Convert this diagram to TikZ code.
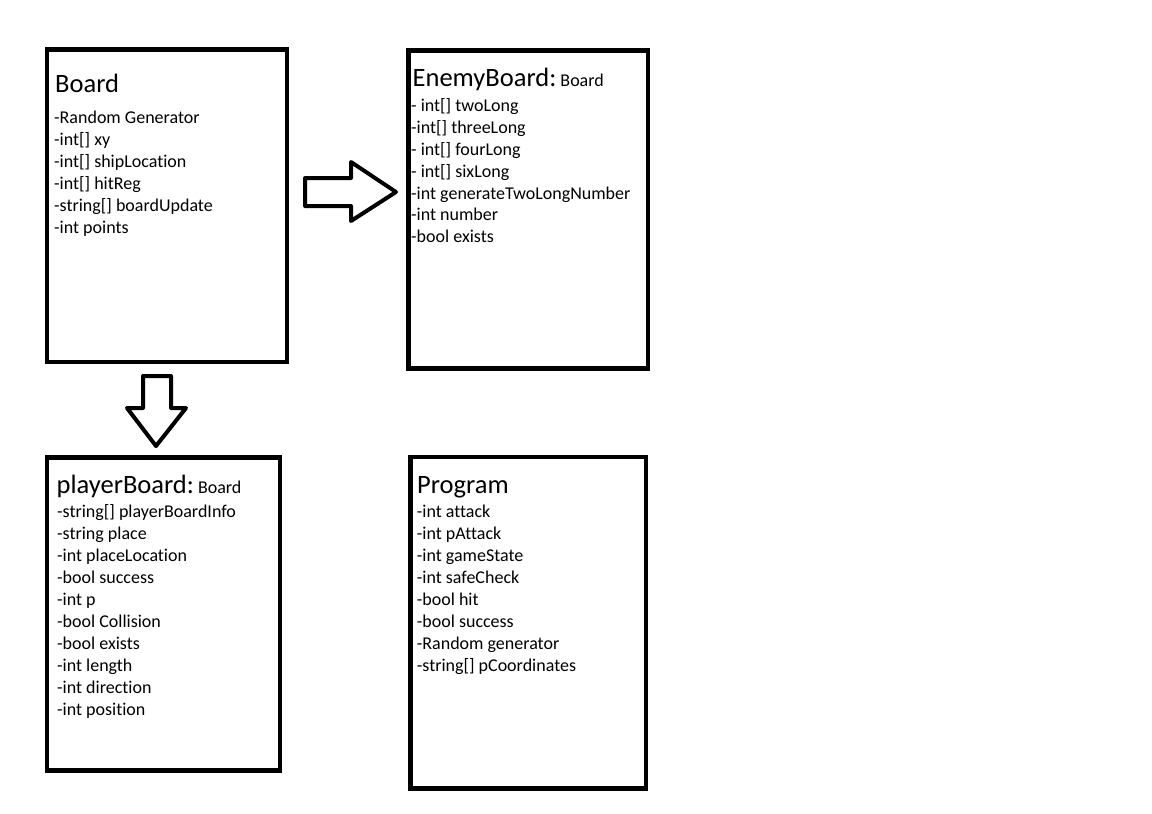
\documentclass[tikz,border=0pt]{standalone}
\usepackage{fontspec}
\setmainfont{Carlito}[Ligatures=CommonOff]
\usetikzlibrary{calc}

\begin{document}
\begin{tikzpicture} [
    x=1pt, y=-1pt,
    classbox/.style = {draw, line width=4.5pt, inner sep=0pt},
    title/.style = {anchor=base west, inner sep=0pt, font=\fontsize{26.5}{30}\selectfont},
    attr/.style = {anchor=base west, inner sep=0pt, font=\fontsize{18}{22}\selectfont},
    blockarrow/.style = {draw, line width=4pt, line join=round}
]
    \useasboundingbox (0,0) rectangle (1152,814);

    \node[classbox, minimum width=240pt, minimum height=312.5pt] (board) at (167,205.75) {};
    \node[classbox, minimum width=239.5pt, minimum height=317.8pt] (enemy) at (528.25,209.4) {};
    \node[classbox, minimum width=233pt, minimum height=313pt] (player) at (163.5,614) {};
    \node[classbox, minimum width=235.5pt, minimum height=331.3pt] (program) at (528.25,622.65) {};

    \node[title] (board-title) at (55,92.3) {Board};
    \foreach \attrtext [count=\i] in {-Random Generator, -int[] xy, -int[] shipLocation,
        -int[] hitReg, -string[] boardUpdate, -int points}
        \node[attr] (board-\i) at (54,{123.3+22*(\i-1)}) {\attrtext};

    \node[title] (enemy-title) at (412.5,86.7) {EnemyBoard:{\fontsize{18}{22}\selectfont\ Board}};
    \foreach \attrtext [count=\i] in {- int[] twoLong, -int[] threeLong, - int[] fourLong,
        - int[] sixLong, -int generateTwoLongNumber, -int number, -bool exists}
        \node[attr] (enemy-\i) at (411,{111.6+21.85*(\i-1)}) {\attrtext};

    \node[title] (player-title) at (56.5,493.3) {playerBoard:{\fontsize{18}{22}\selectfont\ Board}};
    \foreach \attrtext [count=\i] in {-string[] playerBoardInfo, -string place, -int placeLocation,
        -bool success, -int p, -bool Collision, -bool exists, -int length, -int direction, -int position}
        \node[attr] (player-\i) at (57,{517+22*(\i-1)}) {\attrtext};

    \node[title] (program-title) at (417,493.3) {Program};
    \foreach \attrtext [count=\i] in {-int attack, -int pAttack, -int gameState, -int safeCheck,
        -bool hit, -bool success, -Random generator, -string[] pCoordinates}
        \node[attr] (program-\i) at (416.7,{517.3+22*(\i-1)}) {\attrtext};

    % inheritance arrows
    \draw[blockarrow] (305,178) -- (351,178) -- (351,162) -- (396,192) -- (351,221) -- (351,206) -- (305,206) -- cycle;
    \draw[blockarrow] (143,376) -- (171,376) -- (171,408) -- (186,408) -- (156,446) -- (127,408) -- (143,408) -- cycle;
\end{tikzpicture}
\end{document}
